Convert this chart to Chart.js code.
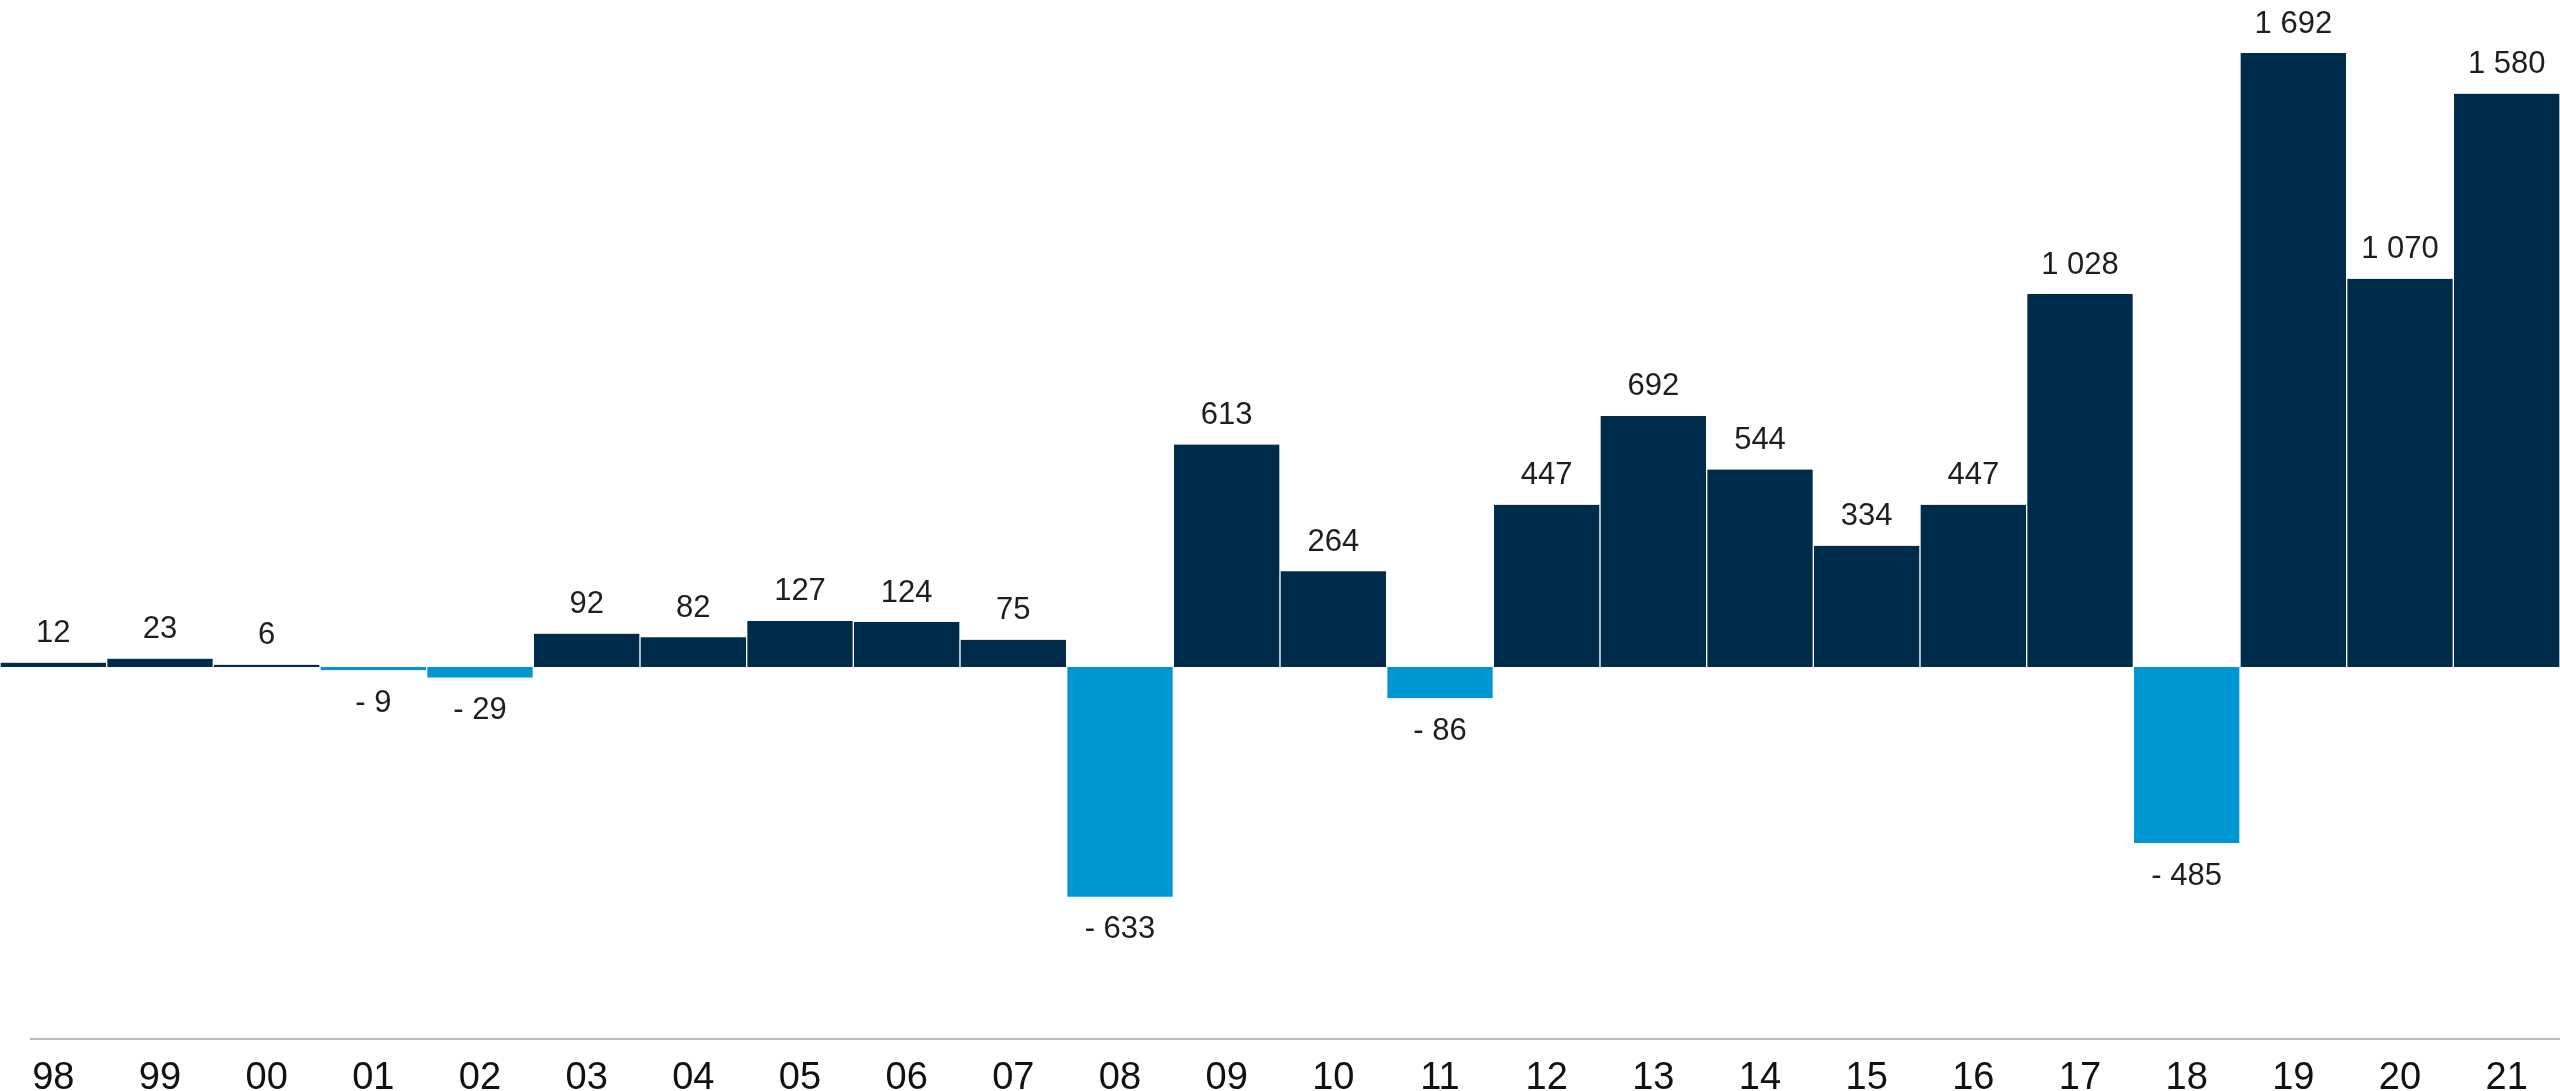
<!DOCTYPE html>
<html>
<head>
<meta charset="utf-8">
<script src="https://cdn.jsdelivr.net/npm/chart.js@4/dist/chart.umd.min.js"></script>
<style>
  html, body { margin: 0; padding: 0; background: #fff; }
  #wrap { width: 2560px; height: 1091px; position: relative; }
</style>
</head>
<body>
<div id="wrap"><canvas id="flowChart"></canvas></div>
<script>
// categories (years) and values
const years = ["98", "99", "00", "01", "02", "03", "04", "05", "06", "07", "08", "09",
               "10", "11", "12", "13", "14", "15", "16", "17", "18", "19", "20", "21"];
const flows = [12, 23, 6, -9, -29, 92, 82, 127, 124, 75, -633, 613,
               264, -86, 447, 692, 544, 334, 447, 1028, -485, 1692, 1070, 1580];

const DARK = "#002C4B";
const LIGHT = "#0096D4";

function fmt(v) {
    const s = Math.abs(v).toString().replace(/\B(?=(\d{3})+(?!\d))/g, " ");
    return v < 0 ? "- " + s : s;
}

// draw value labels above / below each bar, and the bottom axis line
const valueLabels = {
    id: "valueLabels",
    afterDatasetsDraw(chart) {
        const ctx = chart.ctx;
        const meta = chart.getDatasetMeta(0);
        const area = chart.chartArea;
        ctx.save();
        ctx.strokeStyle = "#bdbdbd";
        ctx.lineWidth = 2;
        ctx.beginPath();
        ctx.moveTo(area.left + 30, area.bottom);
        ctx.lineTo(area.right, area.bottom);
        ctx.stroke();

        ctx.font = "31px 'Liberation Sans', Arial, sans-serif";
        ctx.fillStyle = "#1e1e1e";
        ctx.textAlign = "center";
        ctx.textBaseline = "middle";
        meta.data.forEach((bar, i) => {
            const v = flows[i];
            const y = v >= 0 ? bar.y - 29 : bar.y + 33;
            ctx.fillText(fmt(v), bar.x, y);
        });
        ctx.restore();
    }
};

document.addEventListener('DOMContentLoaded', function () {
    const ctx = document.getElementById("flowChart");
    new Chart(ctx, {
        type: "bar",
        data: {
            labels: years,
            datasets: [{
                data: flows,
                backgroundColor: flows.map(v => v < 0 ? LIGHT : DARK),
                borderColor: "#ffffff",
                borderWidth: { left: 1, right: 1, top: 0, bottom: 0 },
                borderSkipped: false,
                categoryPercentage: 1,
                barPercentage: 1,
            }],
        },
        options: {
            responsive: true,
            maintainAspectRatio: false,
            animation: false,
            layout: { padding: 0 },
            plugins: {
                legend: { display: false },
                tooltip: { enabled: false },
            },
            scales: {
                x: {
                    grid: { display: false, drawTicks: false },
                    border: { display: false },
                    ticks: {
                        color: "#111111",
                        font: { family: "'Liberation Sans', Arial, sans-serif", size: 38 },
                        padding: 17,
                        maxRotation: 0,
                        autoSkip: false,
                    },
                    afterFit: s => { s.height = 52; },
                },
                y: {
                    display: false,
                    min: -1025,
                    max: 1838,
                },
            },
        },
        plugins: [valueLabels],
    });
});
</script>
</body>
</html>
